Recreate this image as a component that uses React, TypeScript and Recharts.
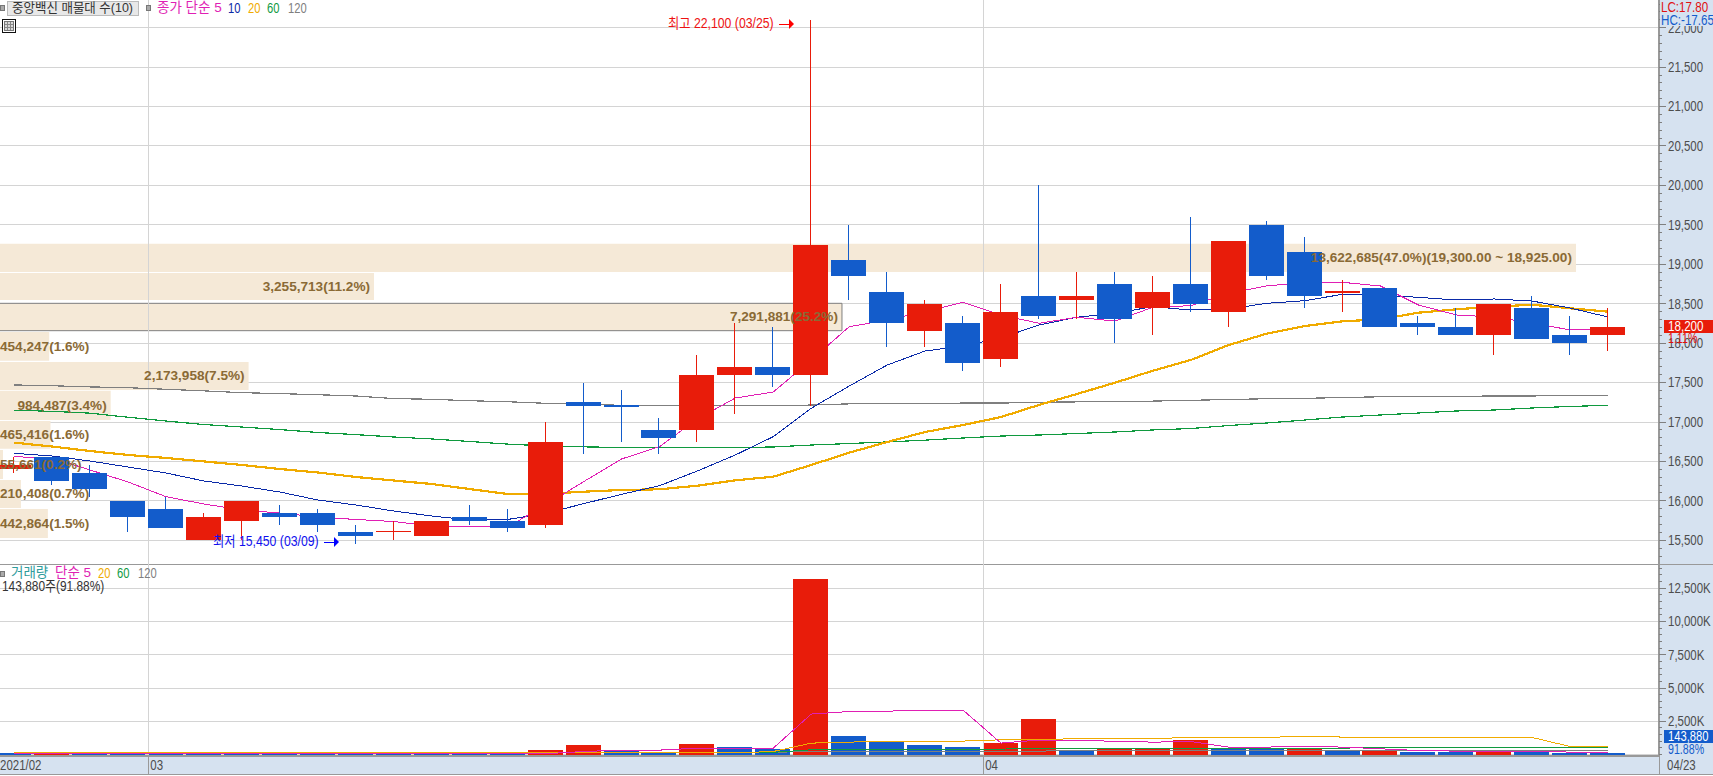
import {
  Bar,
  CartesianGrid,
  Cell,
  ComposedChart,
  Line,
  ReferenceArea,
  ReferenceLine,
  XAxis,
  YAxis,
} from "recharts";

const sessions = Array.from({ length: 43 }, (_, i) => i);

const opens = [16400, 16550, 16350, 16000, 15900, 15500, 15750, 15850, 15850, 15600, 15600, 15550, 15800, 15750, 15700, 17250, 17220, 16900, 16900, 17600, 17700, 17600, 19050, 18650, 18150, 18250, 17800, 18600, 18550, 18750, 18450, 18750, 18400, 19500, 19150, 18640, 18700, 18250, 18200, 18100, 18450, 18100, 18100];
const closes = [16450, 16250, 16150, 15800, 15650, 15800, 16000, 15800, 15700, 15550, 15620, 15750, 15750, 15650, 16750, 17200, 17190, 16800, 17600, 17700, 17600, 19250, 18850, 18250, 18500, 17750, 18400, 18350, 18600, 18300, 18650, 18500, 19300, 18850, 18600, 18660, 18200, 18200, 18100, 18500, 18050, 18000, 18200];
const highs = [16550, 16550, 16450, 16000, 16050, 15850, 16000, 15950, 15900, 15700, 15750, 15750, 15950, 15900, 17000, 17500, 17400, 17050, 17850, 18250, 18200, 22100, 19500, 18900, 18550, 18350, 18750, 20000, 18900, 18900, 18850, 19600, 19300, 19550, 19350, 18800, 18700, 18350, 18450, 18500, 18600, 18350, 18450];
const lows = [16350, 16200, 16050, 15600, 15650, 15500, 15500, 15700, 15600, 15450, 15500, 15550, 15700, 15600, 15650, 16600, 16750, 16600, 16750, 17100, 17450, 17200, 18550, 17950, 17950, 17650, 17700, 18300, 18300, 18000, 18100, 18400, 18200, 18800, 18450, 18400, 18200, 18100, 18100, 17850, 18050, 17850, 17900];

const ma5 = [16560, 16544, 16391, 16239, 16053, 15960, 15884, 15846, 15795, 15764, 15738, 15681, 15672, 15669, 15948, 16243, 16531, 16687, 17038, 17304, 17380, 17786, 18208, 18293, 18399, 18518, 18357, 18252, 18328, 18280, 18454, 18475, 18632, 18725, 18771, 18771, 18725, 18484, 18357, 18331, 18255, 18167, 18167];
const ma10 = [16603, 16569, 16505, 16429, 16353, 16252, 16188, 16112, 16011, 15948, 15871, 15808, 15757, 15764, 15842, 15964, 16083, 16192, 16379, 16582, 16814, 17174, 17456, 17722, 17900, 17964, 18065, 18230, 18328, 18378, 18462, 18420, 18433, 18505, 18538, 18619, 18610, 18581, 18547, 18560, 18534, 18445, 18331];
const ma20 = [16738, 16689, 16632, 16582, 16544, 16500, 16455, 16404, 16360, 16303, 16258, 16214, 16150, 16087, 16090, 16116, 16138, 16147, 16192, 16261, 16306, 16455, 16611, 16746, 16873, 16962, 17063, 17216, 17355, 17498, 17650, 17786, 17976, 18120, 18217, 18277, 18302, 18386, 18429, 18462, 18487, 18442, 18399];
const ma60 = [17150, 17135, 17112, 17060, 17012, 16968, 16936, 16904, 16867, 16840, 16810, 16785, 16753, 16720, 16696, 16685, 16677, 16677, 16677, 16677, 16683, 16708, 16727, 16747, 16770, 16797, 16822, 16835, 16854, 16873, 16899, 16917, 16955, 16987, 17025, 17063, 17089, 17114, 17140, 17152, 17178, 17197, 17212];
const ma120 = [17470, 17460, 17445, 17435, 17415, 17395, 17372, 17360, 17346, 17330, 17297, 17288, 17270, 17257, 17237, 17230, 17210, 17205, 17205, 17205, 17205, 17215, 17230, 17235, 17235, 17240, 17240, 17250, 17255, 17265, 17265, 17275, 17285, 17295, 17300, 17310, 17320, 17320, 17325, 17330, 17330, 17340, 17340];

const volume = [110, 120, 105, 100, 100, 100, 100, 100, 100, 100, 100, 100, 100, 100, 355, 730, 280, 180, 805, 580, 430, 13210, 1405, 1008, 730, 580, 880, 2685, 355, 480, 480, 1105, 480, 480, 480, 300, 300, 200, 200, 200, 200, 130, 143.88];
const volumeUp = [false, true, false, false, false, false, false, false, false, false, false, false, false, false, true, true, false, false, true, false, false, true, false, false, false, false, true, true, false, true, true, true, false, false, true, false, true, false, false, true, false, false, false];
const volMa5 = [60, 60, 60, 60, 60, 60, 60, 60, 60, 60, 60, 60, 60, 60, 60, 225, 330, 330, 480, 480, 480, 3040, 3235, 3265, 3310, 3340, 860, 1085, 1030, 1010, 930, 980, 555, 555, 630, 555, 430, 300, 255, 255, 255, 180, 180];
const volMa20 = [128, 128, 128, 128, 128, 128, 128, 128, 128, 128, 128, 128, 128, 128, 128, 128, 128, 128, 128, 128, 225, 857, 930, 1010, 1010, 1010, 1105, 1105, 1200, 1200, 1200, 1280, 1280, 1280, 1385, 1310, 1310, 1280, 1280, 1280, 1280, 600, 600];
const volMa60 = [165, 165, 165, 165, 165, 165, 165, 165, 165, 165, 165, 165, 165, 165, 165, 165, 165, 165, 165, 165, 165, 355, 355, 355, 355, 355, 405, 480, 480, 480, 480, 480, 480, 480, 480, 480, 525, 525, 525, 555, 555, 555, 555];
const volMa120 = [150, 150, 150, 150, 150, 150, 150, 150, 150, 150, 150, 150, 150, 150, 150, 150, 150, 150, 150, 150, 150, 255, 255, 255, 255, 255, 255, 255, 300, 300, 300, 300, 300, 300, 300, 300, 300, 300, 300, 300, 300, 300, 300];

// 매물대 (volume by price)
const bandTops = [19261, 18889, 18505, 18141, 17761, 17397, 17013, 16645, 16265, 15897];
const bandBottoms = [18902, 18547, 18158, 17777, 17406, 17026, 16662, 16277, 15910, 15529];
const bandVolumes = [13622685, 3255713, 7291881, 454247, 2173958, 984487, 465416, 55661, 210408, 442864];
const bandLabels = [
  "13,622,685(47.0%)(19,300.00 ~ 18,925.00)",
  "3,255,713(11.2%)",
  "7,291,881(25.2%)",
  "454,247(1.6%)",
  "2,173,958(7.5%)",
  "984,487(3.4%)",
  "465,416(1.6%)",
  "55,661(0.2%)",
  "210,408(0.7%)",
  "442,864(1.5%)",
];

const lastPrice = closes[closes.length - 1];

const priceGrid = [15500, 16000, 16500, 17000, 17500, 18000, 18500, 19000, 19500, 20000, 20500, 21000, 21500, 22000];
const priceTicks = Array.from({ length: 71 }, (_, i) => 15300 + i * 100);
const volumeGrid = [0, 2500, 5000, 7500, 10000, 12500];
const volumeTicks = Array.from({ length: 29 }, (_, i) => i * 500);
const dateTicks = [-0.377, 3.53, 25.53, 43.34];
const dateLabels = ["2021/02", "03", "04", "04/23"];
const monthLines = [3.53, 25.53];

const RED = "#e81c0a";
const BLUE = "#135ccb";
const BEIGE = "#f5e9d7";
const BROWN = "#8a6a35";
const MAGENTA = "#e01fb4";
const NAVY = "#0a2aa8";
const ORANGE = "#f0ab00";
const GREEN = "#109a3f";
const GRAY = "#7f7f7f";
const PANEL = "#d6e2f0";
const RULE = "#999999";
const GRID = "#d4d4d4";
const FONT = "'Liberation Sans', 'Noto Sans CJK KR', sans-serif";

const X_DOMAIN: [number, number] = [-0.377, 43.34];
const BAND_DOMAIN: [number, number] = [29757, 14338757];
// starts off-canvas so the outlined band shows no left edge
const BAND_START = -50000;

const candles = sessions.map((i) => ({
  i,
  body: [Math.min(opens[i], closes[i]), Math.max(opens[i], closes[i])],
  wick: [lows[i], highs[i]],
  ma5: ma5[i],
  ma10: ma10[i],
  ma20: ma20[i],
  ma60: ma60[i],
  ma120: ma120[i],
}));

const volumes = sessions.map((i) => ({
  i,
  volume: volume[i],
  ma5: volMa5[i],
  ma20: volMa20[i],
  ma60: volMa60[i],
  ma120: volMa120[i],
}));

function AxisTick({ x, y, payload, step, suffix }: any) {
  const major = payload.value % step === 0 && payload.value !== 0;
  return (
    <g shapeRendering="crispEdges">
      <line x1={x} x2={x + (major ? 7 : 3)} y1={y} y2={y} stroke={GRAY} />
      {major && (
        <text
          transform={`translate(${x + 9} ${y}) scale(0.82 1)`}
          fill="#4d4d4d"
          fontSize={14}
          fontFamily={FONT}
          dominantBaseline="central"
          shapeRendering="auto"
        >
          {payload.value.toLocaleString("en-US")}
          {suffix}
        </text>
      )}
    </g>
  );
}

function DateTick({ x, y, payload, index }: any) {
  const left = index === 3 ? x + 8 : index === 0 ? 0 : x + 2;
  return (
    <g>
      {index > 0 && (
        <line x1={x} x2={x} y1={y} y2={y + 18} stroke={RULE} shapeRendering="crispEdges" />
      )}
      <text
        transform={`translate(${left} ${y + 9}) scale(0.82 1)`}
        fill="#4d4d4d"
        fontSize={14}
        fontFamily={FONT}
        dominantBaseline="central"
      >
        {dateLabels[dateTicks.indexOf(payload.value)]}
      </text>
    </g>
  );
}

function Txt({ x, y, color, size = 14, sx = 1, children }: any) {
  return (
    <div
      style={{
        position: "absolute",
        left: x,
        top: y,
        color,
        fontSize: size,
        lineHeight: "14px",
        whiteSpace: "nowrap",
        fontFamily: FONT,
        transform: `scaleX(${sx})`,
        transformOrigin: "left center",
      }}
    >
      {children}
    </div>
  );
}

function Arrow({ x, y, color }: any) {
  return (
    <svg style={{ position: "absolute", left: x, top: y - 5 }} width={16} height={10}>
      <path d="M0 5H11" stroke={color} strokeWidth={1} shapeRendering="crispEdges" />
      <path d="M10 0L15 5L10 10Z" fill={color} />
    </svg>
  );
}

function Square({ x, y }: any) {
  return (
    <div
      style={{
        position: "absolute",
        left: x,
        top: y,
        width: 3,
        height: 4,
        background: "#aaaaaa",
        border: "1px solid #777777",
      }}
    />
  );
}

function TableIcon() {
  return (
    <svg style={{ position: "absolute", left: 2, top: 19 }} width={14} height={14} shapeRendering="crispEdges">
      <rect x={0.5} y={0.5} width={13} height={13} fill="#ffffff" stroke="#111111" />
      <rect x={2.5} y={2.5} width={9} height={9} fill="#d8d8d8" stroke="#777777" />
      <path d="M5.5 3V11M8.5 3V11M3 5.5H11M3 8.5H11" stroke="#888888" />
    </svg>
  );
}

function bandLabel(text: string) {
  return ({ viewBox }: any) => {
    const right = viewBox.x + viewBox.width;
    const tooWide = text.length * 6.7 > right;
    return (
      <text
        x={tooWide ? 0 : right - 4}
        y={viewBox.y + viewBox.height / 2}
        textAnchor={tooWide ? "start" : "end"}
        dominantBaseline="central"
        fill={BROWN}
        fontSize={13.6}
        fontWeight="bold"
        fontFamily="'Liberation Sans', sans-serif"
      >
        {text}
      </text>
    );
  };
}

function PriceChart() {
  return (
    <ComposedChart
      width={1713}
      height={564}
      data={candles}
      margin={{ top: 0, right: 0, bottom: 0, left: 0 }}
      style={{ position: "absolute", left: 0, top: 0 }}
    >
      <CartesianGrid stroke={GRID} vertical={false} horizontalValues={priceGrid} shapeRendering="crispEdges" />
      <XAxis xAxisId="x" dataKey="i" type="number" domain={X_DOMAIN} allowDataOverflow hide />
      <XAxis xAxisId="wick" dataKey="i" type="number" domain={X_DOMAIN} allowDataOverflow hide />
      <XAxis xAxisId="band" dataKey="i" type="number" domain={BAND_DOMAIN} allowDataOverflow hide />
      <YAxis
        orientation="right"
        width={54}
        domain={[15199.5, 22351]}
        allowDataOverflow
        ticks={priceTicks}
        interval={0}
        tickLine={false}
        tickSize={0}
        tickMargin={0}
        axisLine={{ stroke: RULE, strokeWidth: 2 }}
        tick={<AxisTick step={500} />}
      />
      {monthLines.map((m) => (
        <ReferenceLine key={m} xAxisId="x" x={m} stroke={GRID} shapeRendering="crispEdges" />
      ))}
      {bandVolumes.map((v, b) => (
        <ReferenceArea
          key={b}
          xAxisId="band"
          x1={BAND_START}
          x2={v}
          y1={bandBottoms[b]}
          y2={bandTops[b]}
          ifOverflow="visible"
          fill={BEIGE}
          fillOpacity={1}
          stroke={lastPrice >= bandBottoms[b] && lastPrice <= bandTops[b] ? GRAY : "none"}
        />
      ))}
      <Line xAxisId="x" dataKey="ma120" stroke={GRAY} strokeWidth={1.2} dot={false} activeDot={false} isAnimationActive={false} shapeRendering="crispEdges" />
      <Line xAxisId="x" dataKey="ma60" stroke={GREEN} strokeWidth={1.2} dot={false} activeDot={false} isAnimationActive={false} shapeRendering="crispEdges" />
      <Line xAxisId="x" dataKey="ma20" stroke={ORANGE} strokeWidth={2.2} dot={false} activeDot={false} isAnimationActive={false} shapeRendering="crispEdges" />
      <Line xAxisId="x" dataKey="ma10" stroke={NAVY} strokeWidth={1} dot={false} activeDot={false} isAnimationActive={false} shapeRendering="crispEdges" />
      <Line xAxisId="x" dataKey="ma5" stroke={MAGENTA} strokeWidth={1} dot={false} activeDot={false} isAnimationActive={false} shapeRendering="crispEdges" />
      <Bar xAxisId="wick" dataKey="wick" barSize={1} zIndex={450} isAnimationActive={false} shapeRendering="crispEdges">
        {sessions.map((i) => (
          <Cell key={i} fill={closes[i] >= opens[i] ? RED : BLUE} />
        ))}
      </Bar>
      <Bar xAxisId="x" dataKey="body" barSize={35} zIndex={450} isAnimationActive={false} shapeRendering="crispEdges">
        {sessions.map((i) => (
          <Cell key={i} fill={closes[i] >= opens[i] ? RED : BLUE} />
        ))}
      </Bar>
      {/* labels sit over the candles, the fills under them */}
      {bandVolumes.map((v, b) => (
        <ReferenceArea
          key={`label-${b}`}
          xAxisId="band"
          x1={BAND_START}
          x2={v}
          y1={bandBottoms[b]}
          y2={bandTops[b]}
          ifOverflow="visible"
          fill="none"
          stroke="none"
          zIndex={1000}
          label={bandLabel(bandLabels[b])}
        />
      ))}
    </ComposedChart>
  );
}

function VolumeChart() {
  return (
    <ComposedChart
      width={1713}
      height={210}
      data={volumes}
      margin={{ top: 0, right: 0, bottom: 0, left: 0 }}
      style={{ position: "absolute", left: 0, top: 564 }}
    >
      <CartesianGrid stroke={GRID} vertical={false} horizontalValues={volumeGrid} shapeRendering="crispEdges" />
      <XAxis
        dataKey="i"
        type="number"
        domain={X_DOMAIN}
        allowDataOverflow
        height={18}
        ticks={dateTicks}
        interval={0}
        tickLine={false}
        tickSize={0}
        tickMargin={0}
        axisLine={{ stroke: RULE, strokeWidth: 2 }}
        tick={<DateTick />}
      />
      <YAxis
        orientation="right"
        width={54}
        domain={[-112, 14327]}
        allowDataOverflow
        ticks={volumeTicks}
        interval={0}
        tickLine={false}
        tickSize={0}
        tickMargin={0}
        axisLine={{ stroke: RULE, strokeWidth: 2 }}
        tick={<AxisTick step={2500} suffix="K" />}
      />
      {monthLines.map((m) => (
        <ReferenceLine key={m} x={m} stroke={GRID} shapeRendering="crispEdges" />
      ))}
      <Bar dataKey="volume" barSize={35} isAnimationActive={false} shapeRendering="crispEdges">
        {sessions.map((i) => (
          <Cell key={i} fill={volumeUp[i] ? RED : BLUE} />
        ))}
      </Bar>
      <Line dataKey="ma120" stroke={GRAY} strokeWidth={1} dot={false} activeDot={false} isAnimationActive={false} shapeRendering="crispEdges" />
      <Line dataKey="ma60" stroke={GREEN} strokeWidth={1} dot={false} activeDot={false} isAnimationActive={false} shapeRendering="crispEdges" />
      <Line dataKey="ma20" stroke={ORANGE} strokeWidth={1} dot={false} activeDot={false} isAnimationActive={false} shapeRendering="crispEdges" />
      <Line dataKey="ma5" stroke={MAGENTA} strokeWidth={1} dot={false} activeDot={false} isAnimationActive={false} shapeRendering="crispEdges" />
    </ComposedChart>
  );
}

export default function App() {
  return (
    <div style={{ position: "absolute", left: 0, top: 0, width: 1713, height: 776, overflow: "hidden", background: "#fff" }}>
      <div style={{ position: "absolute", left: 1659, top: 0, width: 54, height: 774, background: PANEL }} />
      <div style={{ position: "absolute", left: 0, top: 756, width: 1713, height: 18, background: PANEL }} />
      <div style={{ position: "absolute", left: 0, top: 564, width: 1713, height: 1, background: RULE }} />
      <div style={{ position: "absolute", left: 0, top: 774, width: 1713, height: 1, background: RULE }} />

      <PriceChart />
      <VolumeChart />

      <Square x={0} y={5} />
      <div style={{ position: "absolute", left: 7, top: 1, width: 130, height: 13, background: "#e8e8e8", border: "1px solid #bbbbbb" }} />
      <Txt x={12} y={1} color="#333333" size={13} sx={0.96}>중앙백신 매물대 수(10)</Txt>
      <Square x={146} y={5} />
      <Txt x={157} y={1} color={MAGENTA} size={13.5}>종가 단순 5</Txt>
      <Txt x={228} y={1} color={NAVY} sx={0.8}>10</Txt>
      <Txt x={248} y={1} color={ORANGE} sx={0.8}>20</Txt>
      <Txt x={267} y={1} color={GREEN} sx={0.8}>60</Txt>
      <Txt x={288} y={1} color={GRAY} sx={0.8}>120</Txt>
      <TableIcon />

      <Txt x={668} y={16} color="#ee1111" sx={0.875}>최고 22,100 (03/25)</Txt>
      <Arrow x={779} y={24} color="#ff0000" />
      <Txt x={213} y={534} color="#1010ee" sx={0.875}>최저 15,450 (03/09)</Txt>
      <Arrow x={324} y={542} color="#0000ff" />

      <Square x={0} y={571} />
      <Txt x={11} y={566} color="#2f9c9c" size={13.5}>거래량</Txt>
      <Txt x={55} y={566} color={MAGENTA} size={13.5}>단순 5</Txt>
      <Txt x={98} y={566} color={ORANGE} sx={0.8}>20</Txt>
      <Txt x={117} y={566} color={GREEN} sx={0.8}>60</Txt>
      <Txt x={138} y={566} color={GRAY} sx={0.8}>120</Txt>
      <Txt x={2} y={579} color="#333333" sx={0.85}>143,880주(91.88%)</Txt>

      <div style={{ position: "absolute", left: 1660, top: 0, width: 53, height: 26, background: PANEL }} />
      <Txt x={1661} y={0} color="#e01010" sx={0.83}>LC:17.80</Txt>
      <Txt x={1661} y={13} color={BLUE} sx={0.83}>HC:-17.65</Txt>
      <div style={{ position: "absolute", left: 1664, top: 320, width: 49, height: 13, background: RED }} />
      <Txt x={1668} y={319} color="#ffffff" sx={0.83}>18,200</Txt>
      <Txt x={1668} y={331} color="#e01010" sx={0.76}>1.11%</Txt>
      <div style={{ position: "absolute", left: 1664, top: 730, width: 49, height: 13, background: BLUE }} />
      <Txt x={1668} y={729} color="#ffffff" sx={0.8}>143,880</Txt>
      <Txt x={1668} y={742} color={BLUE} sx={0.76}>91.88%</Txt>
    </div>
  );
}
